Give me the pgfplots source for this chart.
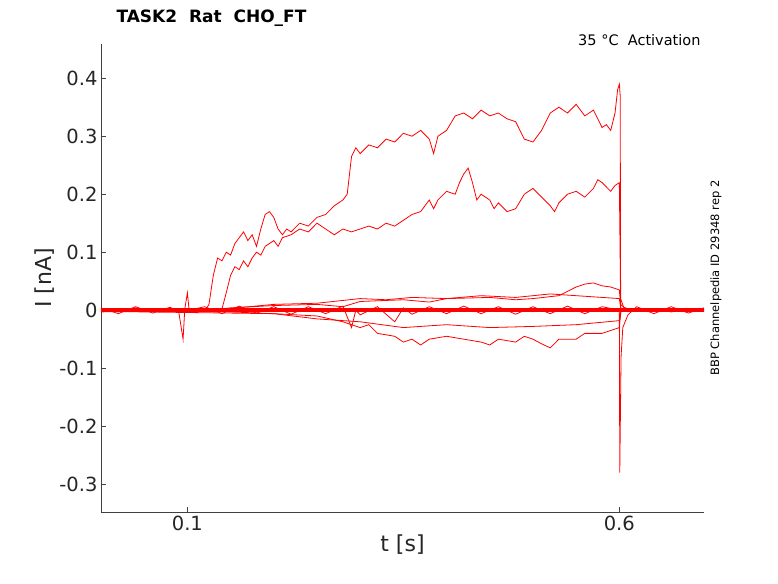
\documentclass[border=0pt]{standalone}
\usepackage{pgfplots}
\pgfplotsset{compat=1.18}
\usepackage{fontspec}
\setmainfont{DejaVu Sans}
\tikzset{tr/.style={red, line width=0.8pt, mark=none}}
\begin{document}
\begin{tikzpicture}
\begin{axis}[
 scale only axis, width=603pt, height=468pt,
 xmin=0, xmax=0.698, ymin=-0.348, ymax=0.459,
 axis lines*=left, axis line style={color=black!75},
 tick style={color=black!75}, tick align=inside, major tick length=5pt,
 xtick={0.1,0.6}, xticklabels={0.1,0.6},
 ytick={-0.3,-0.2,-0.1,0,0.1,0.2,0.3,0.4},
 yticklabels={-0.3,-0.2,-0.1,0,0.1,0.2,0.3,0.4},
 ticklabel style={font=\fontsize{19.5}{19.5}\selectfont, color=black!85},
 xlabel={t [s]}, ylabel={I [nA]},
 label style={font=\fontsize{22}{22}\selectfont, color=black!85},
 xlabel style={yshift=2pt}, ylabel style={yshift=-2pt},
 clip=false,
]
\path ([shift={(-101pt,-71pt)}]rel axis cs:0,0) rectangle ([shift={(74pt,44pt)}]rel axis cs:1,1);
\addplot[tr, line width=4.5pt] coordinates {(0,0) (0.698,0)};
\addplot[tr] coordinates {(0,0.004)(0.02,-0.006)(0.04,0.006)(0.06,-0.005)(0.08,0.005)(0.09,-0.003)(0.095,-0.05)(0.097,0.002)(0.1,0.03)(0.102,0.0)(0.12,0.006)(0.14,-0.006)(0.16,0.007)(0.18,-0.005)(0.2,0.006)(0.22,-0.007)(0.24,0.006)(0.26,-0.006)(0.28,0.007)(0.29,-0.03)(0.295,0.0)(0.3,-0.008)(0.32,0.006)(0.34,-0.02)(0.35,0.004)(0.36,-0.007)(0.38,0.006)(0.4,-0.006)(0.42,0.007)(0.44,-0.006)(0.46,0.006)(0.48,-0.007)(0.5,0.006)(0.52,-0.006)(0.54,0.007)(0.56,-0.006)(0.58,0.006)(0.6,0.0)(0.6005,-0.28)(0.602,-0.08)(0.604,-0.03)(0.61,-0.008)(0.62,0.006)(0.64,-0.006)(0.66,0.006)(0.68,-0.005)(0.698,0.004)};
\addplot[tr] coordinates {(0,0.002)(0.02,-0.003)(0.04,0.004)(0.06,-0.002)(0.08,0.003)(0.1,0.001)(0.12,-0.002)(0.125,0.01)(0.13,0.06)(0.135,0.09)(0.14,0.085)(0.145,0.1)(0.15,0.095)(0.155,0.115)(0.16,0.125)(0.165,0.135)(0.17,0.12)(0.175,0.13)(0.18,0.11)(0.185,0.14)(0.19,0.165)(0.195,0.17)(0.2,0.16)(0.205,0.14)(0.21,0.13)(0.215,0.14)(0.22,0.135)(0.23,0.15)(0.24,0.145)(0.25,0.16)(0.26,0.165)(0.27,0.18)(0.28,0.19)(0.285,0.2)(0.29,0.265)(0.295,0.28)(0.3,0.27)(0.31,0.285)(0.32,0.28)(0.33,0.295)(0.34,0.29)(0.35,0.305)(0.36,0.3)(0.37,0.31)(0.38,0.295)(0.385,0.27)(0.39,0.3)(0.4,0.31)(0.41,0.335)(0.42,0.34)(0.43,0.33)(0.44,0.345)(0.45,0.335)(0.46,0.34)(0.47,0.33)(0.48,0.325)(0.49,0.295)(0.5,0.29)(0.51,0.31)(0.52,0.34)(0.53,0.35)(0.54,0.34)(0.55,0.355)(0.56,0.335)(0.57,0.345)(0.575,0.33)(0.58,0.315)(0.585,0.32)(0.59,0.31)(0.595,0.34)(0.598,0.38)(0.6,0.39)(0.601,0.37)(0.6015,0.02)(0.605,0.005)(0.62,-0.002)(0.64,0.003)(0.66,-0.003)(0.68,0.002)(0.698,0)};
\addplot[tr] coordinates {(0,-0.002)(0.05,0.003)(0.1,-0.002)(0.14,0.002)(0.145,0.03)(0.15,0.06)(0.155,0.075)(0.16,0.07)(0.165,0.085)(0.17,0.075)(0.175,0.09)(0.18,0.1)(0.185,0.095)(0.19,0.11)(0.2,0.12)(0.205,0.11)(0.21,0.125)(0.22,0.13)(0.23,0.14)(0.24,0.135)(0.25,0.15)(0.26,0.14)(0.27,0.13)(0.28,0.14)(0.29,0.135)(0.3,0.14)(0.31,0.145)(0.32,0.14)(0.33,0.15)(0.34,0.145)(0.35,0.155)(0.36,0.165)(0.37,0.17)(0.375,0.18)(0.38,0.19)(0.385,0.175)(0.39,0.19)(0.4,0.205)(0.41,0.2)(0.415,0.22)(0.42,0.235)(0.425,0.245)(0.43,0.22)(0.435,0.19)(0.44,0.2)(0.45,0.19)(0.455,0.175)(0.46,0.185)(0.47,0.17)(0.48,0.175)(0.49,0.2)(0.5,0.21)(0.51,0.195)(0.52,0.18)(0.525,0.17)(0.53,0.185)(0.54,0.2)(0.55,0.205)(0.56,0.195)(0.57,0.21)(0.575,0.225)(0.58,0.22)(0.59,0.205)(0.595,0.215)(0.6,0.22)(0.6015,0.01)(0.61,-0.002)(0.698,0)};
\addplot[tr] coordinates {(0,0.003)(0.1,-0.003)(0.15,0.004)(0.2,0.008)(0.25,0.01)(0.28,0.006)(0.3,0.015)(0.35,0.018)(0.38,0.014)(0.4,0.02)(0.45,0.022)(0.48,0.018)(0.5,0.02)(0.53,0.025)(0.55,0.04)(0.56,0.045)(0.57,0.047)(0.58,0.042)(0.59,0.04)(0.6,0.035)(0.602,0.0)(0.698,0.002)};
\addplot[tr] coordinates {(0,-0.003)(0.15,0.003)(0.2,0.01)(0.25,0.012)(0.3,0.02)(0.33,0.018)(0.36,0.022)(0.4,0.02)(0.44,0.025)(0.48,0.022)(0.52,0.028)(0.56,0.024)(0.6,0.02)(0.602,0.0)(0.698,-0.002)};
\addplot[tr] coordinates {(0,0.002)(0.15,-0.003)(0.2,-0.006)(0.25,-0.01)(0.28,-0.02)(0.3,-0.03)(0.31,-0.025)(0.32,-0.04)(0.34,-0.045)(0.35,-0.055)(0.36,-0.05)(0.37,-0.06)(0.38,-0.05)(0.4,-0.045)(0.42,-0.05)(0.44,-0.055)(0.45,-0.06)(0.46,-0.05)(0.48,-0.055)(0.49,-0.045)(0.5,-0.05)(0.51,-0.058)(0.52,-0.065)(0.53,-0.05)(0.55,-0.05)(0.56,-0.04)(0.58,-0.04)(0.6,-0.03)(0.602,0.0)(0.698,0.002)};
\addplot[tr] coordinates {(0,-0.002)(0.2,-0.006)(0.25,-0.015)(0.3,-0.02)(0.35,-0.03)(0.4,-0.025)(0.45,-0.03)(0.5,-0.028)(0.55,-0.025)(0.6,-0.018)(0.602,0.0)(0.698,0)};
\end{axis}
\node[anchor=west, font=\bfseries\fontsize{17}{17}\selectfont] at (12pt,494pt) {TASK2\ \ Rat\ \ CHO\_FT};
\node[anchor=east, font=\fontsize{14.5}{14.5}\selectfont] at (603pt,472pt) {35 °C\ \ Activation};
\node[rotate=90, font=\fontsize{11.5}{11.5}\selectfont] at (615pt,234pt) {BBP Channelpedia ID 29348 rep 2};
\end{tikzpicture}
\end{document}
